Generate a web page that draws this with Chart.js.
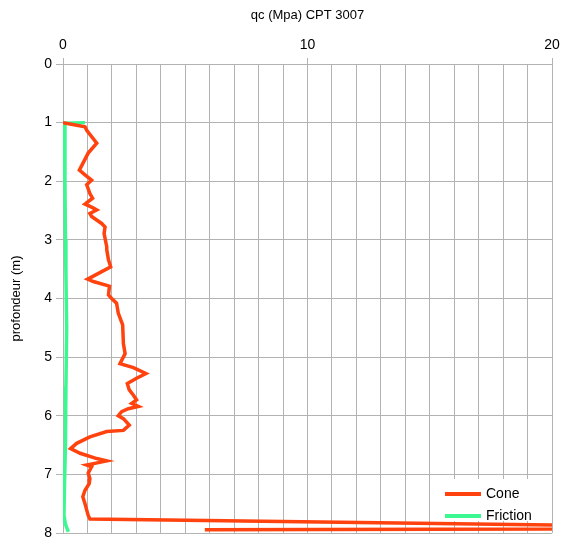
<!DOCTYPE html>
<html>
<head>
<meta charset="utf-8">
<script src="https://cdn.jsdelivr.net/npm/chart.js@4"></script>
<style>
    html, body { margin: 0; padding: 0; background: #fff; }
    #wrap { width: 562px; height: 544px; }
</style>
</head>
<body>
<div id="wrap"><canvas id="cpt"></canvas></div>
<script>
// Cone resistance qc (MPa) against depth (m)
const coneQc = [0.0, 0.9, 0.97, 1.38, 1.03, 0.67, 0.9, 1.17, 0.97, 1.1, 1.21, 0.9, 1.21, 1.38, 1.1, 1.17,
    1.58, 1.72, 1.68, 1.79, 1.79, 1.86, 1.95, 1.01, 1.24, 1.9, 1.86, 1.99, 2.19, 2.26, 2.44, 2.47,
    2.54, 2.33, 2.88, 3.39, 3.01, 2.63, 2.71, 2.88, 3.01, 2.81, 3.08, 2.67, 2.4, 2.26, 2.47, 2.71,
    2.47, 1.79, 1.1, 0.56, 0.31, 0.7, 1.38, 1.79, 1.45, 0.97, 1.17, 1.03, 1.1, 1.07, 0.9, 0.81,
    0.9, 0.97, 1.03, 1.1, 30, 5.8];
const coneDepth = [1.0, 1.07, 1.13, 1.35, 1.52, 1.81, 1.89, 1.98, 2.06, 2.21, 2.29, 2.39, 2.45, 2.49, 2.55, 2.6,
    2.72, 2.78, 2.89, 3.12, 3.17, 3.34, 3.46, 3.67, 3.71, 3.79, 3.94, 4.0, 4.08, 4.25, 4.45, 4.77,
    4.94, 5.11, 5.18, 5.28, 5.36, 5.45, 5.56, 5.65, 5.73, 5.79, 5.84, 5.88, 5.93, 6.0, 6.05, 6.16,
    6.25, 6.27, 6.36, 6.47, 6.56, 6.64, 6.73, 6.77, 6.8, 6.84, 6.87, 6.98, 7.07, 7.16, 7.27, 7.38,
    7.5, 7.61, 7.7, 7.76, 7.92, 7.945];

// Friction (MPa) against depth (m)
const frictionFs = [0.9, 0.05, 0.08, 0.1, 0.12, 0.15, 0.12, 0.1, 0.06, 0.04, 0.1, 0.22];
const frictionDepth = [1.0, 1.01, 2.0, 3.0, 3.6, 4.5, 5.5, 6.5, 7.2, 7.7, 7.85, 7.98];

const xTicks = [0, 10, 20];
const seriesNames = ['Cone', 'Friction'];
const seriesColors = ['#ff420e', '#3cf890'];

const toPoints = (xs, ys) => xs.map((x, i) => ({ x: x, y: ys[i] }));

const gridColor = '#b3b3b3';
const font = { family: '"Liberation Sans", Arial, sans-serif', size: 14 };

// Legend box drawn inside the plot, under the lines
const legendBox = {
    id: 'legendBox',
    beforeDatasetsDraw(chart) {
        const ctx = chart.ctx;
        const area = chart.chartArea;
        const left = area.right - 112;
        const top = area.bottom - 54;
        ctx.save();
        ctx.fillStyle = '#fff';
        ctx.fillRect(left, top, 110, 42);
        ctx.font = '14px "Liberation Sans", Arial, sans-serif';
        ctx.textBaseline = 'middle';
        seriesNames.forEach((name, i) => {
            const y = top + 15 + i * 22;
            ctx.strokeStyle = seriesColors[i];
            ctx.lineWidth = 4;
            ctx.beginPath();
            ctx.moveTo(left + 5, y);
            ctx.lineTo(left + 41, y);
            ctx.stroke();
            ctx.fillStyle = '#000';
            ctx.fillText(name, left + 46, y);
        });
        ctx.restore();
    }
};

new Chart(document.getElementById('cpt'), {
    type: 'scatter',
    data: {
        datasets: [
            {
                label: seriesNames[0],
                data: toPoints(coneQc, coneDepth),
                showLine: true,
                borderColor: seriesColors[0],
                backgroundColor: seriesColors[0],
                borderWidth: 3.5,
                pointRadius: 0,
                tension: 0
            },
            {
                label: seriesNames[1],
                data: toPoints(frictionFs, frictionDepth),
                showLine: true,
                borderColor: seriesColors[1],
                backgroundColor: seriesColors[1],
                borderWidth: 3.5,
                pointRadius: 0,
                tension: 0
            }
        ]
    },
    options: {
        responsive: true,
        maintainAspectRatio: false,
        animation: false,
        layout: { padding: { left: 0, right: 10, top: 0, bottom: 11 } },
        plugins: {
            legend: { display: false },
            tooltip: { enabled: false }
        },
        scales: {
            x: {
                type: 'linear',
                position: 'top',
                min: 0,
                max: 20,
                afterFit: (scale) => {
                    scale.height = 64;
                    scale.paddingLeft = 0;
                    scale.paddingRight = 0;
                },
                title: {
                    display: true,
                    text: 'qc (Mpa) CPT 3007',
                    color: '#000',
                    font: { family: font.family, size: 13 },
                    padding: { top: 8, bottom: 0 }
                },
                ticks: {
                    stepSize: 1,
                    color: '#000',
                    font: font,
                    maxRotation: 0,
                    autoSkip: false,
                    padding: 4,
                    callback: (v) => xTicks.includes(v) ? String(v) : ''
                },
                border: { color: gridColor },
                grid: {
                    color: gridColor,
                    tickLength: 6,
                    tickColor: (c) => (c.tick && xTicks.includes(c.tick.value)) ? gridColor : 'rgba(0,0,0,0)'
                }
            },
            y: {
                type: 'linear',
                reverse: true,
                min: 0,
                max: 8,
                afterFit: (scale) => {
                    scale.width = 63;
                    scale.paddingTop = 0;
                    scale.paddingBottom = 0;
                },
                title: {
                    display: true,
                    text: 'profondeur (m)',
                    color: '#000',
                    font: { family: font.family, size: 13 },
                    padding: { top: 9, bottom: 0 }
                },
                ticks: {
                    stepSize: 1,
                    color: '#000',
                    font: font,
                    padding: 4
                },
                border: { color: gridColor },
                grid: {
                    color: gridColor,
                    tickLength: 7
                }
            }
        }
    },
    plugins: [legendBox]
});
</script>
</body>
</html>
